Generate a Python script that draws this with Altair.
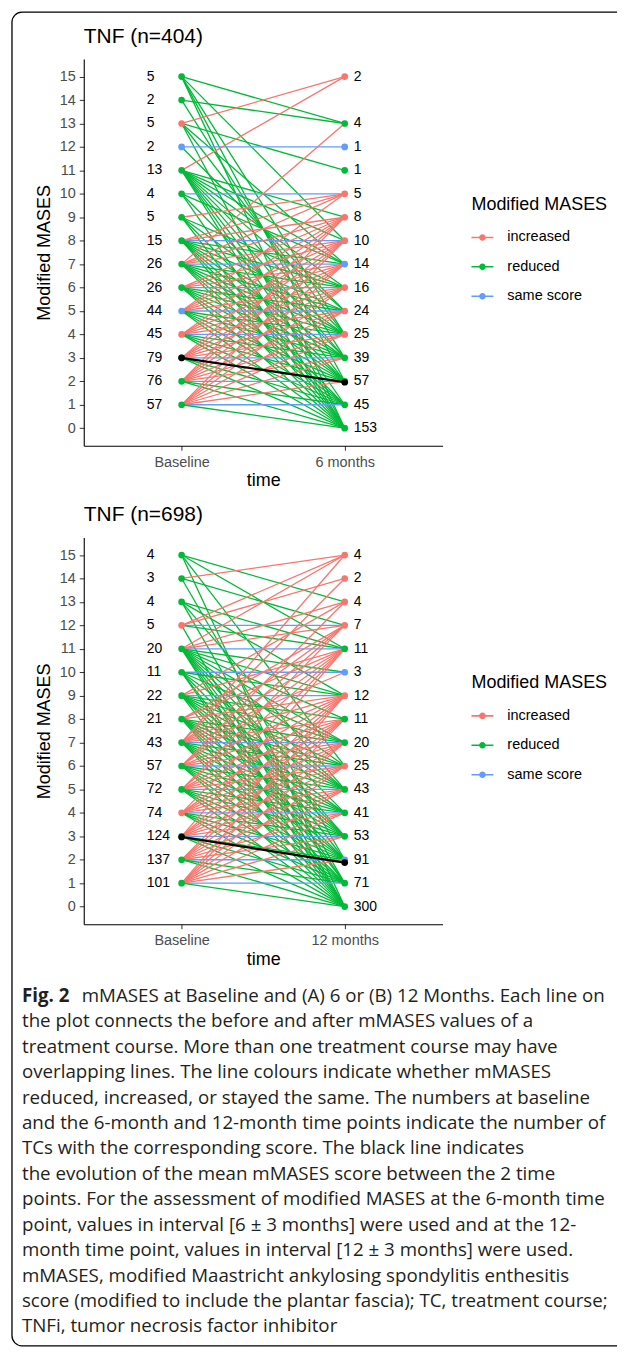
import altair as alt
import pandas as pd

FONT = "Liberation Sans"
CAP_FONT = "Open Sans"
CATS = ["increased", "reduced", "same score"]
PALETTE = ["#F8766D", "#00BA38", "#619CFF"]

# ---------------- Panel A : baseline vs 6 months ----------------
title_a = "TNF (n=404)"
follow_a = "6 months"
base_scores_a = [15, 14, 13, 12, 11, 10, 9, 8, 7, 6, 5, 4, 3, 2, 1]
base_counts_a = [5, 2, 5, 2, 13, 4, 5, 15, 26, 26, 44, 45, 79, 76, 57]
base_status_a = ["reduced", "reduced", "increased", "same score", "reduced", "reduced",
                 "reduced", "reduced", "reduced", "reduced", "same score", "increased",
                 "reduced", "reduced", "reduced"]
fol_scores_a = [15, 13, 12, 11, 10, 9, 8, 7, 6, 5, 4, 3, 2, 1, 0]
fol_counts_a = [2, 4, 1, 1, 5, 8, 10, 14, 16, 24, 25, 39, 57, 45, 153]
fol_status_a = ["increased", "reduced", "same score", "reduced", "increased", "increased",
                "increased", "same score", "increased", "increased", "increased", "reduced",
                "reduced", "reduced", "reduced"]
mean_a = [3.0, 1.96]
pairs_a = [
    (15, 13), (15, 8), (15, 4), (15, 2), (15, 0),
    (14, 13), (14, 3),
    (13, 15), (13, 11), (13, 7), (13, 4), (13, 0),
    (12, 12), (12, 5),
    (11, 15), (11, 9), (11, 8), (11, 7), (11, 6), (11, 5), (11, 4), (11, 3), (11, 2), (11, 1), (11, 0),
    (10, 10), (10, 7), (10, 3), (10, 0),
    (9, 10), (9, 6), (9, 4), (9, 2), (9, 0),
    (8, 8), (8, 10), (8, 9), (8, 7), (8, 6), (8, 5), (8, 4), (8, 3), (8, 2), (8, 1), (8, 0),
    (7, 7), (7, 13), (7, 10), (7, 9), (7, 8), (7, 6), (7, 5), (7, 4), (7, 3), (7, 2), (7, 1), (7, 0),
    (6, 6), (6, 9), (6, 8), (6, 7), (6, 5), (6, 4), (6, 3), (6, 2), (6, 1), (6, 0),
    (5, 5), (5, 10), (5, 9), (5, 8), (5, 7), (5, 6), (5, 4), (5, 3), (5, 2), (5, 1), (5, 0),
    (4, 4), (4, 9), (4, 8), (4, 7), (4, 6), (4, 5), (4, 3), (4, 2), (4, 1), (4, 0),
    (3, 3), (3, 9), (3, 8), (3, 7), (3, 6), (3, 5), (3, 4), (3, 2), (3, 1), (3, 0),
    (2, 2), (2, 9), (2, 8), (2, 7), (2, 6), (2, 5), (2, 4), (2, 3), (2, 1), (2, 0),
    (1, 1), (1, 8), (1, 7), (1, 6), (1, 5), (1, 4), (1, 3), (1, 2), (1, 0),
]

# ---------------- Panel B : baseline vs 12 months ----------------
title_b = "TNF (n=698)"
follow_b = "12 months"
base_scores_b = [15, 14, 13, 12, 11, 10, 9, 8, 7, 6, 5, 4, 3, 2, 1]
base_counts_b = [4, 3, 4, 5, 20, 11, 22, 21, 43, 57, 72, 74, 124, 137, 101]
base_status_b = ["reduced", "reduced", "reduced", "increased", "reduced", "reduced",
                 "reduced", "reduced", "reduced", "reduced", "reduced", "increased",
                 "reduced", "reduced", "reduced"]
fol_scores_b = [15, 14, 13, 12, 11, 10, 9, 8, 7, 6, 5, 4, 3, 2, 1, 0]
fol_counts_b = [4, 2, 4, 7, 11, 3, 12, 11, 20, 25, 43, 41, 53, 91, 71, 300]
fol_status_b = ["increased", "increased", "increased", "increased", "reduced", "same score",
                "increased", "reduced", "reduced", "increased", "reduced", "reduced",
                "reduced", "same score", "reduced", "reduced"]
mean_b = [2.97, 1.88]
pairs_b = [
    (15, 13), (15, 11), (15, 6), (15, 0),
    (14, 15), (14, 12), (14, 2),
    (13, 11), (13, 9), (13, 5), (13, 1),
    (12, 12), (12, 15), (12, 14), (12, 11), (12, 0),
    (11, 11), (11, 15), (11, 13), (11, 12), (11, 10), (11, 9), (11, 8), (11, 7), (11, 6),
    (11, 5), (11, 4), (11, 3), (11, 2), (11, 1), (11, 0),
    (10, 10), (10, 9), (10, 7), (10, 5), (10, 3), (10, 1), (10, 0),
    (9, 9), (9, 13), (9, 11), (9, 8), (9, 7), (9, 6), (9, 5), (9, 4), (9, 3), (9, 2), (9, 0),
    (8, 12), (8, 11), (8, 9), (8, 7), (8, 6), (8, 5), (8, 4), (8, 3), (8, 2), (8, 1), (8, 0),
    (7, 7), (7, 15), (7, 14), (7, 12), (7, 11), (7, 10), (7, 9), (7, 8), (7, 6), (7, 5),
    (7, 4), (7, 3), (7, 2), (7, 1), (7, 0),
    (6, 6), (6, 13), (6, 12), (6, 11), (6, 9), (6, 8), (6, 7), (6, 5), (6, 4), (6, 3),
    (6, 2), (6, 1), (6, 0),
    (5, 5), (5, 12), (5, 11), (5, 9), (5, 8), (5, 7), (5, 6), (5, 4), (5, 3), (5, 2), (5, 1), (5, 0),
    (4, 4), (4, 11), (4, 9), (4, 8), (4, 7), (4, 6), (4, 5), (4, 3), (4, 2), (4, 1), (4, 0),
    (3, 3), (3, 11), (3, 9), (3, 8), (3, 7), (3, 6), (3, 5), (3, 4), (3, 2), (3, 1), (3, 0),
    (2, 2), (2, 9), (2, 8), (2, 7), (2, 6), (2, 5), (2, 4), (2, 3), (2, 1), (2, 0),
    (1, 1), (1, 9), (1, 8), (1, 7), (1, 6), (1, 5), (1, 4), (1, 3), (1, 2), (1, 0),
]

# ---------------- Caption ----------------
caption_bold = "Fig. 2"
caption_first = "mMASES at Baseline and (A) 6 or (B) 12 Months. Each line on"
caption_lines = [
    "the plot connects the before and after mMASES values of a",
    "treatment course. More than one treatment course may have",
    "overlapping lines. The line colours indicate whether mMASES",
    "reduced, increased, or stayed the same. The numbers at baseline",
    "and the 6-month and 12-month time points indicate the number of",
    "TCs with the corresponding score. The black line indicates",
    "the evolution of the mean mMASES score between the 2 time",
    "points. For the assessment of modified MASES at the 6-month time",
    "point, values in interval [6 \u00b1 3 months] were used and at the 12-",
    "month time point, values in interval [12 \u00b1 3 months] were used.",
    "mMASES, modified Maastricht ankylosing spondylitis enthesitis",
    "score (modified to include the plantar fascia); TC, treatment course;",
    "TNFi, tumor necrosis factor inhibitor",
]

LEGEND_SYMBOL = ("M-1,-0.07H1V0.07H-1Z"
                 "M0.3,0A0.3,0.3,0,1,1,-0.3,0A0.3,0.3,0,1,1,0.3,0Z")


def status_of(a, b):
    if b > a:
        return "increased"
    if b < a:
        return "reduced"
    return "same score"


def panel(title, follow, bs, bc, bst, fs, fc, fst, pairs, mean):
    xscale = alt.Scale(type="point", domain=["Baseline", follow], padding=0.6)
    yscale = alt.Scale(domain=[-0.75, 15.75], nice=False, zero=False)
    cscale = alt.Scale(domain=CATS, range=PALETTE)
    xaxis = alt.Axis(title="time", labelAngle=0, grid=False, domainColor="black",
                     domainWidth=1.1, tickColor="#333333", tickSize=4.5,
                     labelColor="#4D4D4D", labelFontSize=14.5, labelFont=FONT,
                     labelPadding=5, titleFontSize=18, titleFontWeight="normal",
                     titleColor="black", titleFont=FONT, titlePadding=3)
    yaxis = alt.Axis(title="Modified MASES", values=list(range(16)), format="d",
                     grid=False, domainColor="black", domainWidth=1.1,
                     tickColor="#333333", tickSize=4.5, labelColor="#4D4D4D",
                     labelFontSize=14.5, labelFont=FONT, labelPadding=4,
                     titleFontSize=18, titleFontWeight="normal", titleColor="black",
                     titleFont=FONT, titlePadding=6)
    edges = pd.DataFrame({
        "time": ["Baseline"] * len(pairs),
        "time2": [follow] * len(pairs),
        "score": [p[0] for p in pairs],
        "score2": [p[1] for p in pairs],
        "status": [status_of(p[0], p[1]) for p in pairs],
    })
    base_nodes = pd.DataFrame({"time": ["Baseline"] * len(bs), "score": bs,
                               "n": bc, "status": bst})
    fol_nodes = pd.DataFrame({"time": [follow] * len(fs), "score": fs,
                              "n": fc, "status": fst})
    nodes = pd.concat([base_nodes, fol_nodes], ignore_index=True)
    mean_edge = pd.DataFrame({"time": ["Baseline"], "time2": [follow],
                              "score": [mean[0]], "score2": [mean[1]]})
    mean_pts = pd.DataFrame({"time": ["Baseline", follow], "score": mean})

    x = alt.X("time:N", scale=xscale, axis=xaxis)
    y = alt.Y("score:Q", scale=yscale, axis=yaxis)

    # invisible first layer that carries the (filled) legend
    legend_layer = alt.Chart(nodes).mark_circle(size=45, opacity=0).encode(
        x=x, y=y,
        color=alt.Color("status:N", scale=cscale, legend=alt.Legend(
            title="Modified MASES", orient="none", legendX=389, legendY=137,
            direction="vertical", titleFont=FONT, titleFontSize=18,
            titleFontWeight="normal", titleColor="black", titlePadding=13,
            labelFont=FONT, labelFontSize=14.5, labelColor="black", labelOffset=14,
            symbolType=LEGEND_SYMBOL, symbolSize=484, symbolStrokeWidth=0,
            symbolOpacity=1, rowPadding=11.5, padding=0)))
    lines = alt.Chart(edges).mark_rule(strokeWidth=1.3).encode(
        x=x, x2="time2:N", y=y, y2="score2:Q",
        color=alt.Color("status:N", scale=cscale))
    pts = alt.Chart(nodes).mark_circle(size=45, opacity=1).encode(
        x=x, y=y, color=alt.Color("status:N", scale=cscale))
    mline = alt.Chart(mean_edge).mark_rule(strokeWidth=2.2, color="black").encode(
        x=x, x2="time2:N", y=y, y2="score2:Q")
    mpts = alt.Chart(mean_pts).mark_circle(size=45, opacity=1, color="black").encode(
        x=x, y=y)
    btxt = alt.Chart(base_nodes).mark_text(
        align="left", baseline="middle", dx=-35, font=FONT, fontSize=14,
        color="black").encode(x=x, y=y, text="n:Q")
    ftxt = alt.Chart(fol_nodes).mark_text(
        align="left", baseline="middle", dx=9, font=FONT, fontSize=14,
        color="black").encode(x=x, y=y, text="n:Q")
    return alt.layer(legend_layer, lines, pts, mline, mpts, btxt, ftxt).properties(
        width=360, height=388,
        title=alt.TitleParams(title, anchor="start", frame="group", font=FONT,
                              fontSize=21, fontWeight="normal", color="black",
                              offset=12.5))


chart_a = panel(title_a, follow_a, base_scores_a, base_counts_a, base_status_a,
                fol_scores_a, fol_counts_a, fol_status_a, pairs_a, mean_a)
chart_b = panel(title_b, follow_b, base_scores_b, base_counts_b, base_status_b,
                fol_scores_b, fol_counts_b, fol_status_b, pairs_b, mean_b)

# caption block (line 0 is the first line, set from two pieces)
cap_df = pd.DataFrame({"line": list(range(1, len(caption_lines) + 1)),
                       "text": caption_lines})
first_df = pd.DataFrame({"line": [0], "text": [caption_first], "bold": [caption_bold]})
cap_y = alt.Y("line:Q", scale=alt.Scale(domain=[0, 12.9], reverse=True), axis=None)
CAP_SIZE = 18.8
CAP_COLOR = "#231F20"
cap_rest = alt.Chart(cap_df).mark_text(
    align="left", baseline="middle", font=CAP_FONT, fontSize=CAP_SIZE, color=CAP_COLOR,
    dy=-20).encode(x=alt.value(-62), y=cap_y, text="text:N")
cap_first = alt.Chart(first_df).mark_text(
    align="left", baseline="middle", font=CAP_FONT, fontSize=CAP_SIZE, color=CAP_COLOR,
    dy=-20).encode(x=alt.value(-2), y=cap_y, text="text:N")
cap_bold = alt.Chart(first_df).mark_text(
    align="left", baseline="middle", font=CAP_FONT, fontSize=CAP_SIZE, fontWeight="bold",
    color=CAP_COLOR, dy=-20).encode(x=alt.value(-62), y=cap_y, text="bold:N")
# outer frame of the figure; its right side runs off the page (clipped by the svg edge)
frame = alt.Chart(pd.DataFrame({"k": [0]})).mark_rect(
    fillOpacity=0, stroke="black", strokeWidth=1.3, cornerRadius=10).encode(
    x=alt.value(-72), x2=alt.value(558), y=alt.value(-1007), y2=alt.value(331))
caption = alt.layer(frame, cap_rest, cap_first, cap_bold).properties(width=360, height=329)

chart = alt.vconcat(chart_a, chart_b, caption, spacing=92, bounds="flush").resolve_scale(
    x="independent", y="independent", color="independent"
).properties(
    padding={"left": 2, "top": 0, "right": -25, "bottom": 0}
).configure(font=FONT, background="white").configure_view(stroke="transparent")

chart.save("out.html", embed_options={"renderer": "svg", "actions": False})
